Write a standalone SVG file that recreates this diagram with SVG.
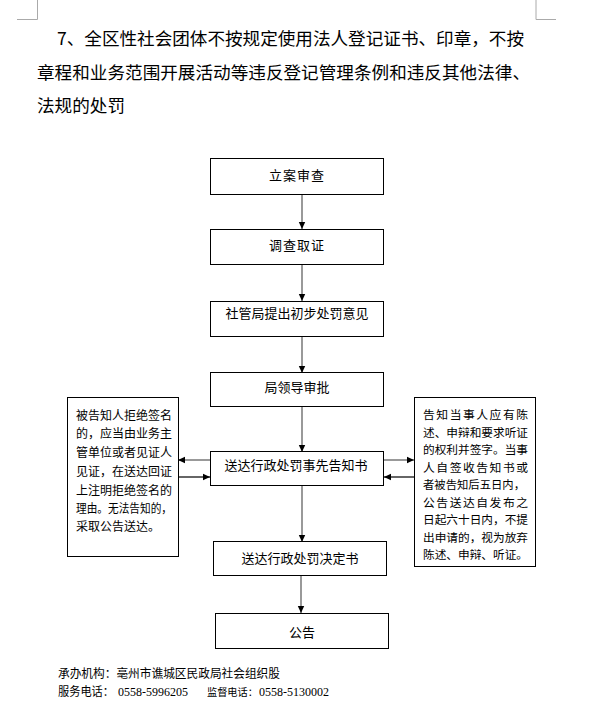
<svg xmlns="http://www.w3.org/2000/svg" width="602" height="728" viewBox="0 0 602 728">
<style>
text{font-family:"Noto Sans CJK SC","Noto Sans",sans-serif;fill:#000}
.t{font-size:17.6px}
.b{font-size:13px;text-anchor:middle}
.s{font-size:12px}
.r{font-size:11.8px}
.f{font-size:12px}
.n{font-family:"Liberation Serif",serif;font-size:12px}
.box{fill:#fff;stroke:#000;stroke-width:1}
.cn{stroke:#555;stroke-width:1.2;fill:none}
.cnk{stroke:#000;stroke-width:1.2;fill:none}
.mark{stroke:#aaa;stroke-width:1;fill:none}
</style>
<defs>
<marker id="ah" markerUnits="userSpaceOnUse" markerWidth="8" markerHeight="8" refX="7" refY="4" orient="auto">
<path d="M0,0.8 L7,4 L0,7.2 Z" fill="#000"/>
</marker>
</defs>
<rect width="602" height="728" fill="#fff"/>
<g id="page-marks">
<path class="mark" d="M37.5,0 V19.5 H17"/>
<path class="mark" d="M536,0 V19.5 H556"/>
</g>
<g id="title">
<text class="t" x="57" y="45" textLength="467" lengthAdjust="spacing">7、全区性社会团体不按规定使用法人登记证书、印章，不按</text>
<text class="t" x="37" y="79" textLength="493" lengthAdjust="spacing">章程和业务范围开展活动等违反登记管理条例和违反其他法律、</text>
<text class="t" x="37" y="112">法规的处罚</text>
</g>
<g id="connectors">
<line class="cn" x1="302" y1="195" x2="302" y2="229" marker-end="url(#ah)"/>
<line class="cn" x1="302" y1="264" x2="302" y2="301" marker-end="url(#ah)"/>
<line class="cn" x1="302" y1="336" x2="302" y2="373" marker-end="url(#ah)"/>
<line class="cn" x1="302" y1="407" x2="302" y2="452" marker-end="url(#ah)"/>
<line class="cn" x1="302" y1="486" x2="302" y2="542" marker-end="url(#ah)"/>
<line class="cn" x1="301" y1="576" x2="301" y2="613" marker-end="url(#ah)"/>
<line class="cn" x1="210" y1="460" x2="178" y2="460" marker-end="url(#ah)"/>
<line class="cnk" x1="178" y1="477" x2="210" y2="477" marker-end="url(#ah)"/>
<line class="cn" x1="384" y1="460" x2="414" y2="460" marker-end="url(#ah)"/>
<line class="cnk" x1="414" y1="477" x2="384" y2="477" marker-end="url(#ah)"/>
</g>
<g id="n1"><rect class="box" x="210.5" y="158.5" width="173" height="36"/><text class="b" x="297" y="180" letter-spacing="1">立案审查</text></g>
<g id="n2"><rect class="box" x="210.5" y="229.5" width="173" height="35"/><text class="b" x="297" y="250" letter-spacing="1">调查取证</text></g>
<g id="n3"><rect class="box" x="210.5" y="301.5" width="173" height="35"/><text class="b" x="297" y="318">社管局提出初步处罚意见</text></g>
<g id="n4"><rect class="box" x="210.5" y="372.5" width="173" height="34"/><text class="b" x="297" y="392">局领导审批</text></g>
<g id="n5"><rect class="box" x="210.5" y="451.5" width="173" height="34"/><text class="b" x="296" y="470">送达行政处罚事先告知书</text></g>
<g id="n6"><rect class="box" x="213.5" y="541.5" width="173" height="34"/><text class="b" x="300" y="563">送达行政处罚决定书</text></g>
<g id="n7"><rect class="box" x="215.5" y="613.5" width="173" height="35"/><text class="b" x="302" y="637">公告</text></g>
<g id="left-note">
<rect class="box" x="67.5" y="397.5" width="111" height="159"/>
<text class="s" x="76" y="419.5">被告知人拒绝签名</text>
<text class="s" x="76" y="438">的，应当由业务主</text>
<text class="s" x="76" y="457">管单位或者见证人</text>
<text class="s" x="76" y="475.5">见证，在送达回证</text>
<text class="s" x="76" y="494.5">上注明拒绝签名的</text>
<text class="s" x="76" y="513" textLength="96" lengthAdjust="spacingAndGlyphs">理由。无法告知的，</text>
<text class="s" x="76" y="531">采取公告送达。</text>
</g>
<g id="right-note">
<rect class="box" x="414.5" y="397.5" width="121" height="169"/>
<text class="r" x="423" y="419" textLength="105" lengthAdjust="spacing">告知当事人应有陈</text>
<text class="r" x="423" y="436.5" textLength="105" lengthAdjust="spacingAndGlyphs">述、申辩和要求听证</text>
<text class="r" x="423" y="454" textLength="105" lengthAdjust="spacingAndGlyphs">的权利并签字。当事</text>
<text class="r" x="423" y="471.5" textLength="105" lengthAdjust="spacing">人自签收告知书或</text>
<text class="r" x="423" y="489" textLength="102" lengthAdjust="spacingAndGlyphs">者被告知后五日内，</text>
<text class="r" x="423" y="506.5" textLength="105" lengthAdjust="spacing">公告送达自发布之</text>
<text class="r" x="423" y="524" textLength="105" lengthAdjust="spacingAndGlyphs">日起六十日内，不提</text>
<text class="r" x="423" y="541.5" textLength="105" lengthAdjust="spacingAndGlyphs">出申请的，视为放弃</text>
<text class="r" x="423" y="559" textLength="105" lengthAdjust="spacingAndGlyphs">陈述、申辩、听证。</text>
</g>
<g id="footer">
<text class="f" x="58" y="677.5" textLength="222" lengthAdjust="spacingAndGlyphs">承办机构：亳州市谯城区民政局社会组织股</text>
<text class="f" x="58" y="695.5" textLength="56" lengthAdjust="spacingAndGlyphs">服务电话：</text>
<text class="n" x="118" y="695.5">0558-5996205</text>
<text class="f" x="207" y="695.5" style="font-size:10.2px">监督电话：</text>
<text class="n" x="259" y="695.5">0558-5130002</text>
</g>
</svg>
